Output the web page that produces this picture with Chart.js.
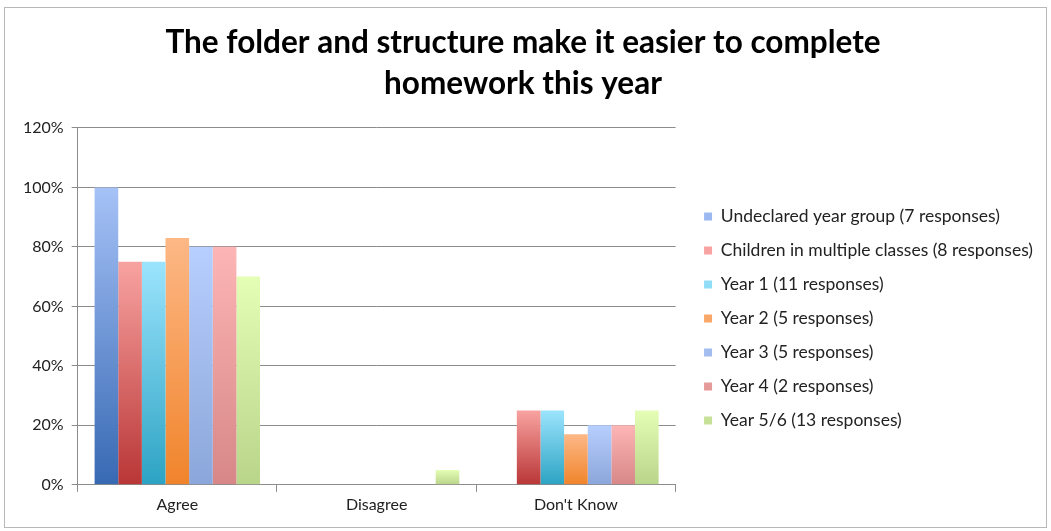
<!DOCTYPE html>
<html>
<head>
<meta charset="utf-8">
<script src="https://cdn.jsdelivr.net/npm/chart.js@4/dist/chart.umd.min.js"></script>
<style>
  html, body { margin: 0; padding: 0; background: #fff; }
  #wrap { position: relative; width: 1051px; height: 531px; }
  #frame { position: absolute; left: 4px; top: 7px; width: 1043px; height: 521px; border: 1px solid #b8b8b8; box-sizing: border-box; pointer-events: none; }
</style>
</head>
<body>
<div id="wrap">
  <canvas id="chart" width="1051" height="531"></canvas>
  <div id="frame"></div>
</div>
<script>
const categories = ['Agree', 'Disagree', "Don't Know"];
const seriesNames = [
  'Undeclared year group (7 responses)',
  'Children in multiple classes (8 responses)',
  'Year 1 (11 responses)',
  'Year 2 (5 responses)',
  'Year 3 (5 responses)',
  'Year 4 (2 responses)',
  'Year 5/6 (13 responses)'
];
const undeclared = [100, 0, 0];
const multiple = [75, 0, 25];
const year1 = [75, 0, 25];
const year2 = [83, 0, 17];
const year3 = [80, 0, 20];
const year4 = [80, 0, 20];
const year56 = [70, 5, 25];
const yTicks = [0, 20, 40, 60, 80, 100, 120];

// dark (bottom) / light (top) / legend colour
const colours = [
  ['#3769b3', '#a6c2f7', '#5b86c9'],
  ['#b93636', '#f8a3a1', '#d0605e'],
  ['#2ca3c3', '#9ce4fd', '#4cbcd9'],
  ['#f0842b', '#fdb886', '#f59a51'],
  ['#8ba6da', '#b7cffe', '#9fb9ec'],
  ['#d78787', '#fdb5b5', '#eb9d9d'],
  ['#b9d58a', '#e4feb5', '#cde7a0']
];

function grad(c) {
  return ctx => {
    const chart = ctx.chart;
    if (!chart.chartArea || ctx.type !== 'data') return c[2];
    const y = chart.scales.y;
    const y0 = y.getPixelForValue(0);
    const y1 = y.getPixelForValue(ctx.raw);
    if (!isFinite(y1) || Math.abs(y0 - y1) < 1) return c[0];
    const g = chart.ctx.createLinearGradient(0, y0, 0, y1);
    g.addColorStop(0, c[0]);
    g.addColorStop(1, c[1]);
    return g;
  };
}

const values = [undeclared, multiple, year1, year2, year3, year4, year56];
const datasets = values.map((d, i) => ({
  label: seriesNames[i],
  data: d,
  backgroundColor: grad(colours[i]),
  borderWidth: 0,
  categoryPercentage: 0.83,
  barPercentage: 1
}));

const fontFam = 'Lato, "Liberation Sans", sans-serif';

// push the legend a little further from the plot, like the original
const legendShift = {
  id: 'legendShift',
  afterLayout(chart) {
    if (chart.legend) { chart.legend.left += 12; chart.legend.right += 12; }
  }
};

new Chart(document.getElementById('chart'), {
  type: 'bar',
  data: { labels: categories, datasets: datasets },
  plugins: [legendShift],
  options: {
    responsive: false,
    animation: false,
    layout: { padding: { left: 15, right: 20, top: 14, bottom: 14 } },
    plugins: {
      title: {
        display: true,
        text: ['The folder and structure make it easier to complete', 'homework this year'],
        font: { family: fontFam, size: 31.5, weight: 'bold', lineHeight: 1.3 },
        color: '#000',
        padding: { top: 8, bottom: 24 }
      },
      legend: {
        position: 'right',
        align: 'start',
        maxWidth: 420,
        title: { display: true, text: ' ', font: { size: 1 }, padding: { top: 176, bottom: 0 } },
        labels: {
          font: { family: fontFam, size: 17.5 },
          color: '#222',
          boxWidth: 8,
          boxHeight: 8,
          padding: 16.5
        }
      },
      tooltip: { enabled: false }
    },
    scales: {
      x: {
        grid: { offset: true, drawOnChartArea: false, tickLength: 7, color: '#8c8c8c' },
        border: { color: '#8c8c8c' },
        ticks: { font: { family: fontFam, size: 16 }, color: '#222', padding: 3 }
      },
      y: {
        min: 0,
        max: 120,
        afterBuildTicks: s => { s.ticks = yTicks.map(v => ({ value: v })); },
        grid: { color: '#8c8c8c', tickLength: 6 },
        border: { color: '#8c8c8c' },
        ticks: {
          font: { family: fontFam, size: 16 },
          color: '#222',
          padding: 8,
          callback: v => v + '%'
        }
      }
    }
  }
});
</script>
</body>
</html>
